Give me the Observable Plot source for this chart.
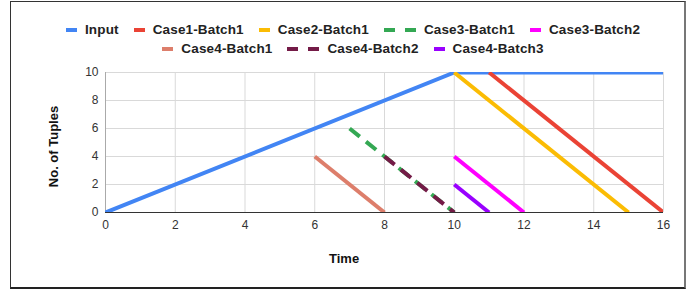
<!DOCTYPE html>
<html>
<head>
<meta charset="utf-8">
<script src="https://cdn.jsdelivr.net/npm/d3@7"></script>
<script src="https://cdn.jsdelivr.net/npm/@observablehq/plot@0.6"></script>
<style>
  html, body { margin: 0; padding: 0; background: #fff; }
  #wrap { position: relative; width: 699px; height: 292px; overflow: hidden; font-family: "Liberation Sans", Arial, sans-serif; }
  #chart { position: absolute; left: 0; top: 0; }
  #frame { position: absolute; left: 10px; top: 1px; width: 676px; height: 288px; box-sizing: border-box;
           border: 1px solid #333; border-right: 2px solid #777; border-bottom: 2px solid #222; pointer-events: none; }
  #legend { position: absolute; left: 10px; width: 686px; top: 20px; font-weight: bold; font-size: 13.5px; letter-spacing: 0.15px; color: #222; }
  .row { display: flex; justify-content: center; align-items: center; height: 19px; }
  .item { display: flex; align-items: center; margin: 0 7.5px; white-space: nowrap; }
  .sw { display: inline-block; height: 4px; margin-right: 8px; }
  .title { position: absolute; font-weight: bold; font-size: 13px; color: #111; white-space: nowrap; }
</style>
</head>
<body>
<div id="wrap">
  <div id="chart"></div>
  <div id="legend"></div>
  <div class="title" id="xt">Time</div>
  <div class="title" id="yt">No. of Tuples</div>
  <div id="frame"></div>
</div>
<script>
// ---- data ----
const seriesNames = ["Input", "Case1-Batch1", "Case2-Batch1", "Case3-Batch1", "Case3-Batch2", "Case4-Batch1", "Case4-Batch2", "Case4-Batch3"];
const inputTime = [0, 10, 16];
const inputTuples = [0, 10, 10];
const case1Batch1Time = [11, 16];
const case1Batch1Tuples = [10, 0];
const case2Batch1Time = [10, 15];
const case2Batch1Tuples = [10, 0];
const case3Batch1Time = [7, 10];
const case3Batch1Tuples = [6, 0];
const case3Batch2Time = [10, 12];
const case3Batch2Tuples = [4, 0];
const case4Batch1Time = [6, 8];
const case4Batch1Tuples = [4, 0];
const case4Batch2Time = [8, 10];
const case4Batch2Tuples = [4, 0];
const case4Batch3Time = [10, 11];
const case4Batch3Tuples = [2, 0];
const xTicks = [0, 2, 4, 6, 8, 10, 12, 14, 16];
const yTicks = [0, 2, 4, 6, 8, 10];

// ---- styles ----
const colors = ["#4285f4", "#ea4335", "#fbbc04", "#34a853", "#ff00ff", "#dd7e6b", "#741b47", "#9900ff"];
const dashed = [false, false, false, true, false, false, true, false];

const times = [inputTime, case1Batch1Time, case2Batch1Time, case3Batch1Time, case3Batch2Time, case4Batch1Time, case4Batch2Time, case4Batch3Time];
const values = [inputTuples, case1Batch1Tuples, case2Batch1Tuples, case3Batch1Tuples, case3Batch2Tuples, case4Batch1Tuples, case4Batch2Tuples, case4Batch3Tuples];

const lineMarks = seriesNames.map((name, i) => {
  const rows = times[i].map((t, j) => ({series: name, t, v: values[i][j]}));
  return Plot.line(rows, {
    x: "t", y: "v", stroke: colors[i], strokeWidth: 4,
    strokeDasharray: dashed[i] ? "13,8" : null,
    strokeLinecap: "butt", strokeLinejoin: "round", clip: true
  });
});

const plot = Plot.plot({
  width: 699, height: 292,
  marginLeft: 105, marginRight: 36, marginTop: 72, marginBottom: 80,
  x: {domain: [0, 16]},
  y: {domain: [0, 10]},
  style: {fontFamily: '"Liberation Sans", Arial, sans-serif', fontSize: "12px", color: "#333", background: "transparent", overflow: "visible"},
  marks: [
    Plot.ruleX(xTicks.filter(d => d !== 0), {stroke: "#d9d9d9", strokeWidth: 1, strokeOpacity: 1}),
    Plot.ruleY(yTicks.filter(d => d !== 0), {stroke: "#d9d9d9", strokeWidth: 1, strokeOpacity: 1}),
    Plot.ruleX([0], {stroke: "#aaa", strokeWidth: 1}),
    Plot.ruleY([0], {stroke: "#333", strokeWidth: 1}),
    ...lineMarks,
    Plot.axisX({ticks: xTicks, tickSize: 0, tickPadding: 8, label: null, tickFormat: d => String(d)}),
    Plot.axisY({ticks: yTicks, tickSize: 0, tickPadding: 7, label: null, tickFormat: d => String(d)})
  ]
});
document.getElementById("chart").appendChild(plot);

// ---- legend ----
const legend = document.getElementById("legend");
const rowsSplit = [[0, 1, 2, 3, 4], [5, 6, 7]];
rowsSplit.forEach(idxs => {
  const row = document.createElement("div");
  row.className = "row";
  idxs.forEach(i => {
    const item = document.createElement("div");
    item.className = "item";
    const sw = document.createElement("span");
    sw.className = "sw";
    if (dashed[i]) {
      sw.style.width = "32px";
      sw.style.background = `linear-gradient(to right, ${colors[i]} 0 11px, transparent 11px 21px, ${colors[i]} 21px 32px)`;
    } else {
      sw.style.width = "11px";
      sw.style.background = colors[i];
    }
    item.appendChild(sw);
    const tx = document.createElement("span");
    tx.textContent = seriesNames[i];
    item.appendChild(tx);
    row.appendChild(item);
  });
  legend.appendChild(row);
});

// ---- axis titles ----
const xt = document.getElementById("xt");
xt.style.left = (344 - xt.offsetWidth / 2) + "px";
xt.style.top = (258 - xt.offsetHeight / 2) + "px";
const yt = document.getElementById("yt");
yt.style.left = (53 - yt.offsetWidth / 2) + "px";
yt.style.top = (146 - yt.offsetHeight / 2) + "px";
yt.style.transform = "rotate(-90deg)";
</script>
</body>
</html>
